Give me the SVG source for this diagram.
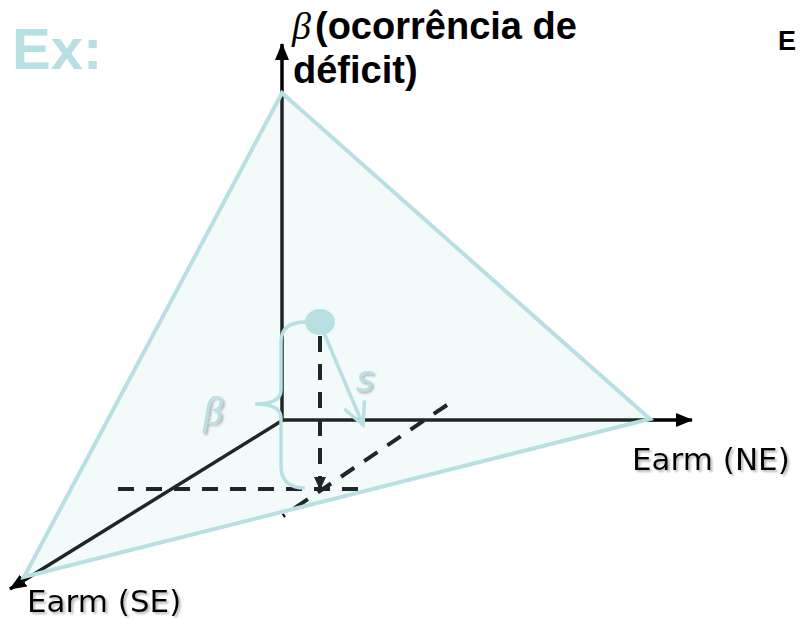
<svg xmlns="http://www.w3.org/2000/svg" width="800" height="618" viewBox="0 0 800 618">
<style>
.axis{stroke:#000;stroke-width:3.5;fill:none}
.dash{stroke:#000;stroke-width:4;fill:none;stroke-dasharray:16 12}
.cy{stroke:#b8dfe2;stroke-width:3.5;fill:none}
.lbl{font-family:"DejaVu Sans",Verdana,sans-serif;font-size:31px;fill:#000}
.title{font-family:"Liberation Sans",Arial,sans-serif;font-weight:bold;font-size:38px;fill:#000}
</style>
<defs>
<marker id="ah" markerUnits="userSpaceOnUse" markerWidth="18" markerHeight="16" refX="16" refY="8" orient="auto">
<path d="M0,1 L17,8 L0,15 z" fill="#000"/>
</marker>
<marker id="ahs" markerUnits="userSpaceOnUse" markerWidth="14" markerHeight="12" refX="12" refY="6" orient="auto">
<path d="M0,0 L13,6 L0,12 z" fill="#000"/>
</marker>
<marker id="open" markerUnits="userSpaceOnUse" markerWidth="30" markerHeight="30" refX="24" refY="15" orient="auto">
<path d="M2,4 L24,15 L2,26" fill="none" stroke="#b8dfe2" stroke-width="3.5"/>
</marker>
<filter id="sh" x="-10%" y="-20%" width="130%" height="150%">
<feDropShadow dx="2" dy="2" stdDeviation="1" flood-color="#888" flood-opacity="0.6"/>
</filter>
</defs>
<rect width="800" height="618" fill="#fff"/>
<text x="12" y="69" font-family="Liberation Sans,Arial,sans-serif" font-weight="bold" font-size="58" fill="#b8dfe2">Ex:</text>
<text x="778" y="50" font-family="Liberation Sans,Arial,sans-serif" font-weight="bold" font-size="27" fill="#000">E</text>
<g id="connectors">
<line id="axis-beta" class="axis" x1="282" y1="421" x2="282" y2="44" marker-end="url(#ah)"/>
<line id="axis-ne" class="axis" x1="281" y1="420" x2="692" y2="420" marker-end="url(#ah)"/>
<line id="axis-se" class="axis" x1="283" y1="420" x2="10" y2="589" marker-end="url(#ah)"/>
<line class="dash" x1="118" y1="489" x2="360" y2="489"/>
<line class="dash" x1="447" y1="405" x2="283" y2="516"/>
<line class="dash" x1="320" y1="336" x2="320" y2="489" marker-end="url(#ahs)"/>
</g>
<g id="plane">
<polygon points="282,93 650,419 24,577" fill="#b8dfe2" fill-opacity="0.17" stroke="#b8dfe2" stroke-width="4" stroke-linejoin="miter"/>
</g>
<g id="point">
<ellipse cx="320" cy="322" rx="15" ry="13" fill="#b8dfe2"/>
<line class="cy" x1="324" y1="333" x2="363" y2="425" marker-end="url(#open)"/>
<path class="cy" d="M306,322 Q281,322 281,342 L281,390 Q281,404 255,404 Q281,404 281,418 L281,466 Q281,488 305,488"/>
<text x="356" y="391" font-family="DejaVu Sans,Verdana,sans-serif" font-style="italic" font-size="35" fill="#b8dfe2" filter="url(#sh)">s</text>
<text x="203" y="424" font-family="Liberation Serif,Times New Roman,serif" font-style="italic" font-size="40" fill="#b8dfe2" filter="url(#sh)">β</text>
</g>
<g id="label-beta">
<text class="title" x="292" y="39"><tspan font-family="Liberation Serif,Times New Roman,serif" font-style="italic" font-weight="normal">β</tspan><tspan x="315">(ocorrência de</tspan><tspan x="293" y="83">déficit)</tspan></text>
</g>
<g id="label-ne">
<text class="lbl" x="632" y="470" filter="url(#sh)">Earm (NE)</text>
</g>
<g id="label-se">
<text class="lbl" x="27" y="612" filter="url(#sh)">Earm (SE)</text>
</g>
</svg>
